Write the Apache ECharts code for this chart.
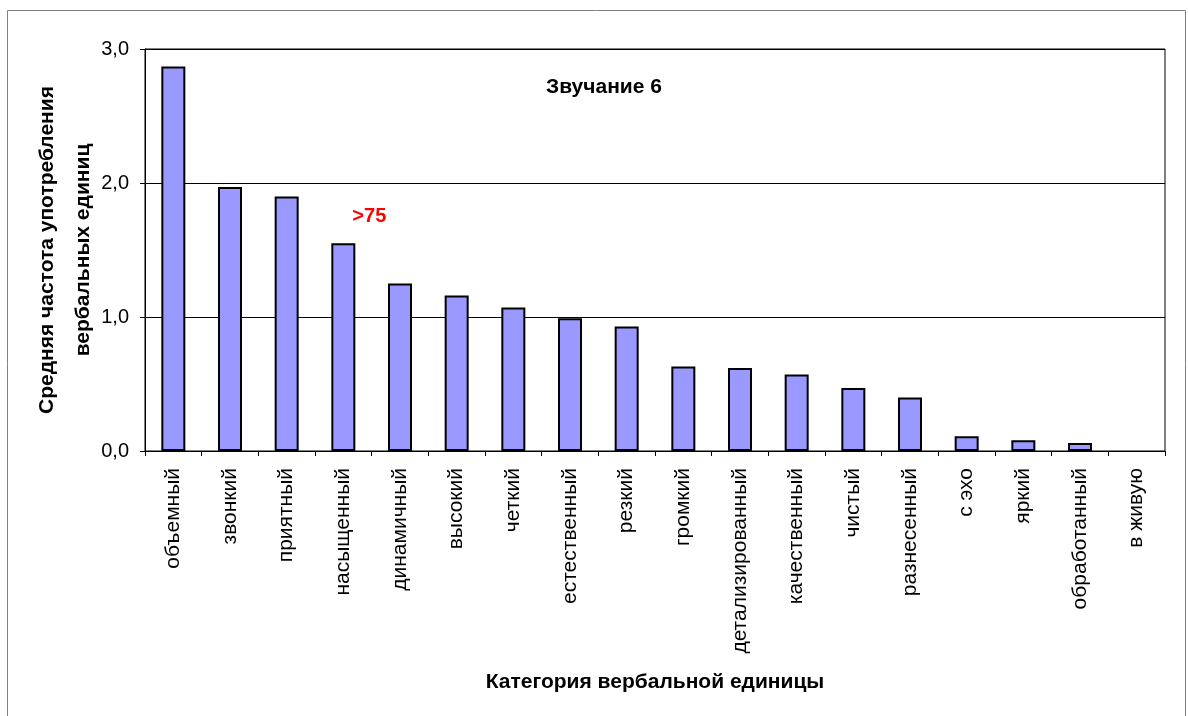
<!DOCTYPE html>
<html>
<head>
<meta charset="utf-8">
<script src="https://cdn.jsdelivr.net/npm/echarts@6/dist/echarts.min.js"></script>
<style>
  html, body { margin: 0; padding: 0; background: #ffffff; }
  #chart { width: 1188px; height: 716px; }
</style>
</head>
<body>
<div id="chart"></div>
<script>
// Verbal unit categories (x axis)
const categories = [
  'объемный', 'звонкий', 'приятный', 'насыщенный', 'динамичный', 'высокий',
  'четкий', 'естественный', 'резкий', 'громкий', 'детализированный',
  'качественный', 'чистый', 'разнесенный', 'с эхо', 'яркий', 'обработанный', 'в живую'
];
// Mean usage frequency per category
const meanFrequency = [
  2.87, 1.97, 1.90, 1.55, 1.25, 1.16, 1.07, 0.99, 0.93,
  0.63, 0.62, 0.57, 0.47, 0.40, 0.11, 0.08, 0.06, 0.0
];
const yTicks = [0, 1, 2, 3];
// Annotation placed next to the "насыщенный" bar
const noteText = '>75';
const noteAt = [3, 1.75];

const chart = echarts.init(document.getElementById('chart'), null, { renderer: 'canvas' });
const font = 'Arial, "Liberation Sans", sans-serif';

// zero-height bars are drawn without an outline
const barData = meanFrequency.map(v => v === 0
  ? { value: v, itemStyle: { borderWidth: 0 } }
  : v);

const frame = {
  type: 'rect',
  shape: { x: 7.5, y: 10.5, width: 1178, height: 720 },
  style: { fill: 'none', stroke: '#808080', lineWidth: 1 },
  silent: true
};

chart.setOption({
  animation: false,
  backgroundColor: '#ffffff',
  textStyle: { fontFamily: font },
  title: {
    text: 'Звучание 6',
    left: 599, top: 72, textAlign: 'center',
    textStyle: { fontFamily: font, fontSize: 21, fontWeight: 'bold', color: '#000' }
  },
  grid: {
    left: 145, right: 23, top: 49, bottom: 265,
    outerBoundsMode: 'none', containLabel: false,
    show: true, borderColor: '#000', borderWidth: 1
  },
  xAxis: {
    type: 'category',
    data: categories,
    name: 'Категория вербальной единицы',
    nameLocation: 'middle',
    nameGap: 221,
    nameMoveOverlap: false,
    nameTextStyle: { fontFamily: font, fontSize: 21, fontWeight: 'bold', color: '#000' },
    axisLine: { lineStyle: { color: '#000', width: 1 } },
    axisTick: { show: true, length: 5, lineStyle: { color: '#000' } },
    axisLabel: {
      rotate: 90, interval: 0, margin: 17,
      fontFamily: font, fontSize: 21, color: '#000'
    }
  },
  yAxis: {
    type: 'value',
    min: yTicks[0], max: yTicks[yTicks.length - 1], interval: 1,
    name: 'Средняя частота употребления\nвербальных единиц',
    nameLocation: 'middle',
    nameGap: 44,
    nameMoveOverlap: false,
    nameTextStyle: { fontFamily: font, fontSize: 21, fontWeight: 'bold', color: '#000', lineHeight: 36 },
    axisLine: { show: true, lineStyle: { color: '#000', width: 1 } },
    axisTick: { show: true, length: 5, lineStyle: { color: '#000' } },
    axisLabel: {
      margin: 16, fontFamily: font, fontSize: 20, color: '#000',
      formatter: v => v.toFixed(1).replace('.', ',')
    },
    splitLine: { show: true, lineStyle: { color: '#000', width: 1 } }
  },
  series: [{
    type: 'bar',
    data: barData,
    barWidth: 24,
    itemStyle: { color: '#9999ff', borderColor: '#000', borderWidth: 2 }
  }],
  graphic: [frame]
});

// red annotation anchored to data coordinates
const notePos = chart.convertToPixel({ seriesIndex: 0 }, noteAt);
chart.setOption({
  graphic: [frame, {
    type: 'text',
    x: notePos[0] + 26, y: notePos[1],
    style: {
      text: noteText, fill: '#ff0000',
      font: 'bold 20px ' + font,
      textAlign: 'center', textVerticalAlign: 'middle'
    },
    silent: true
  }]
});
</script>
</body>
</html>
